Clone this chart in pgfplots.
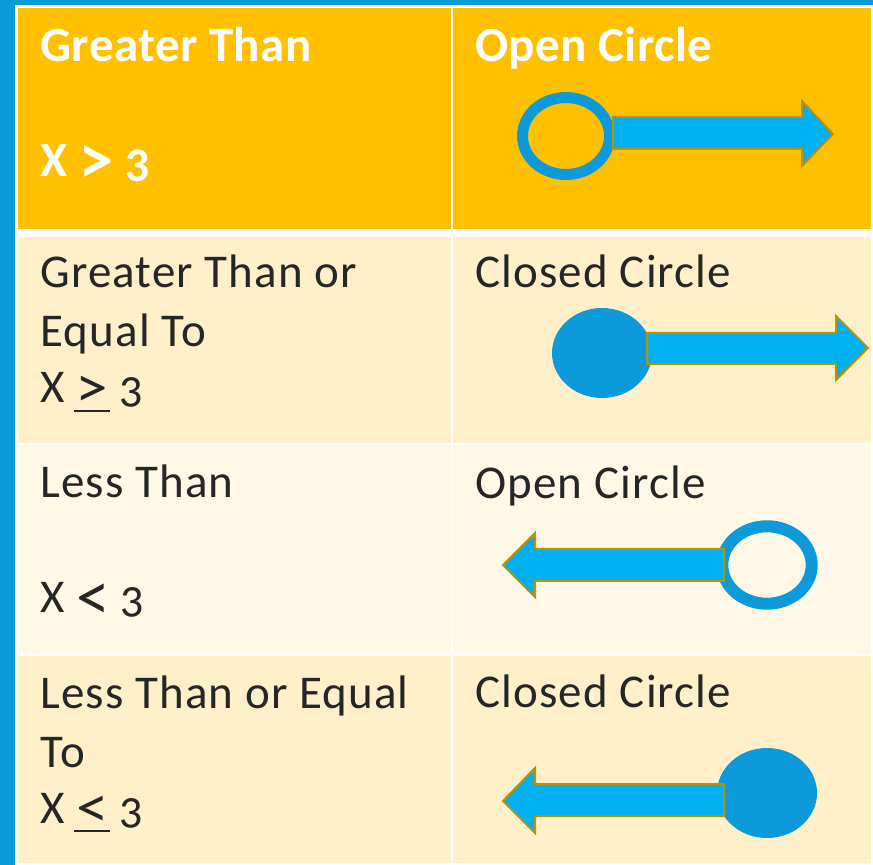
\documentclass[border=0pt]{standalone}
\usepackage{graphicx}
\usepackage{fontspec}
\setmainfont{Carlito}[Numbers=OldStyle, LetterSpace=2.4]
\newfontfamily\hdrfont{Carlito}[Numbers=OldStyle, LetterSpace=0.8]
\newfontfamily\plainfont{Carlito}[Numbers=OldStyle]
\newfontfamily\symf{Lato}
\usepackage{pgfplots}
\pgfplotsset{compat=1.18}

\definecolor{bgblue}{RGB}{12,154,219}
\definecolor{hdr}{RGB}{255,192,0}
\definecolor{rowa}{RGB}{255,240,202}
\definecolor{rowb}{RGB}{255,248,230}
\definecolor{txt}{RGB}{38,38,38}
\definecolor{arrowfill}{RGB}{0,176,240}
\definecolor{arrowline}{RGB}{191,144,0}
\definecolor{dotblue}{RGB}{12,154,219}

% comparison signs (larger than the text font has them), and the same with a bar under them
\newcommand\sym[1]{\hspace{0.2em}\raisebox{-0.16em}{\scalebox{1.35}[1.4]{\symf #1}}\hspace{0.2em}}
\newcommand\ulsym[1]{\hspace{0.2em}\setbox0\hbox{\raisebox{-0.1em}{\scalebox{1.3}[1.2]{\symf #1}}}\rlap{\rule[-0.2em]{\wd0}{0.06em}}\box0\hspace{0.2em}}

\pgfplotsset{
    cell/.style={draw=none, mark=none, forget plot},
    arr/.style={fill=arrowfill, draw=arrowline, line width=1pt, mark=none, forget plot},
}
\tikzset{
    body/.style={anchor=base west, inner sep=0pt, text=txt, font=\fontsize{23.5}{28}\selectfont},
    head/.style={anchor=base west, inner sep=0pt, text=white, font=\fontsize{24.5}{29}\selectfont\hdrfont\bfseries},
}

\begin{document}
\begin{tikzpicture}
\begin{axis}[
    scale only axis,
    width=436.5pt, height=432.5pt,
    xmin=0, xmax=873, ymin=0, ymax=865,
    y dir=reverse,
    hide axis,
]
% background and table frame
\addplot[cell, fill=bgblue] coordinates {(0,0)(873,0)(873,865)(0,865)} --cycle;
\addplot[cell, fill=white] coordinates {(15,5)(873,5)(873,865)(15,865)} --cycle;

% header row
\addplot[cell, fill=hdr] coordinates {(18,8)(451,8)(451,229)(18,229)} --cycle;
\addplot[cell, fill=hdr] coordinates {(453,8)(871,8)(871,229)(453,229)} --cycle;
% row 2
\addplot[cell, fill=rowa] coordinates {(18,237)(451,237)(451,443)(18,443)} --cycle;
\addplot[cell, fill=rowa] coordinates {(453,237)(871,237)(871,443)(453,443)} --cycle;
% row 3
\addplot[cell, fill=rowb] coordinates {(18,445)(451,445)(451,653)(18,653)} --cycle;
\addplot[cell, fill=rowb] coordinates {(453,445)(871,445)(871,653)(453,653)} --cycle;
% row 4
\addplot[cell, fill=rowa] coordinates {(18,656)(451,656)(451,863)(18,863)} --cycle;
\addplot[cell, fill=rowa] coordinates {(453,656)(871,656)(871,863)(453,863)} --cycle;

% circles
\draw[dotblue, line width=5.5pt] (axis cs:566,136) ellipse [x radius=43.5, y radius=38.5];
\fill[dotblue] (axis cs:602,353) ellipse [x radius=50, y radius=45];
\draw[dotblue, line width=6pt] (axis cs:767,565) ellipse [x radius=44.7, y radius=38.7];
\fill[dotblue] (axis cs:767,793) ellipse [x radius=50, y radius=45];

% arrows
\addplot[arr] coordinates {(613,117)(802,117)(802,101)(833,134)(802,166)(802,149)(613,149)} --cycle;
\addplot[arr] coordinates {(647,333)(836,333)(836,316)(868,348)(836,380)(836,364)(647,364)} --cycle;
\addplot[arr] coordinates {(724,549)(535,549)(535,533)(503,565)(535,597)(535,581)(724,581)} --cycle;
\addplot[arr] coordinates {(724,784)(535,784)(535,768)(503,801)(535,833)(535,816)(724,816)} --cycle;

% text
\node[head] at (axis cs:40,62) {Greater Than};
\node[head] at (axis cs:40,177) {\plainfont\bfseries X\sym{>}3};
\node[head] at (axis cs:475,62) {Open Circle};

\node[body] at (axis cs:40,288) {Greater Than or};
\node[body] at (axis cs:40,347) {Equal To};
\node[body] at (axis cs:40,403) {\plainfont X\ulsym{>}3};
\node[body] at (axis cs:475,288) {Closed Circle};

\node[body] at (axis cs:40,498) {Less Than};
\node[body] at (axis cs:40,613) {\plainfont X\sym{<}3};
\node[body] at (axis cs:475,499) {Open Circle};

\node[body] at (axis cs:40,709) {Less Than or Equal};
\node[body] at (axis cs:40,767) {To};
\node[body] at (axis cs:40,823) {\plainfont X\ulsym{<}3};
\node[body] at (axis cs:475,708) {Closed Circle};
\end{axis}
\end{tikzpicture}
\end{document}
